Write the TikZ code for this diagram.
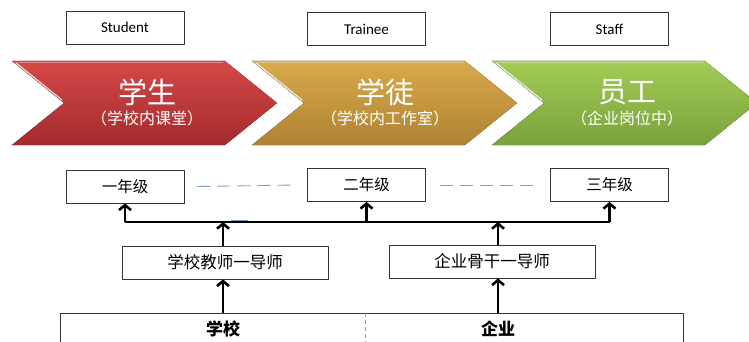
\documentclass[tikz,border=0pt]{standalone}
\usepackage{fontspec}
\setmainfont{Carlito}
\newfontfamily\cjk{Noto Sans CJK SC}
\usetikzlibrary{arrows.meta}
\definecolor{redtop}{HTML}{D64848}
\definecolor{redbot}{HTML}{A32B2D}
\definecolor{goldtop}{HTML}{D9AA4C}
\definecolor{goldbot}{HTML}{AE8332}
\definecolor{greentop}{HTML}{A2CC56}
\definecolor{greenbot}{HTML}{79A23B}
\definecolor{dashblue}{HTML}{7D9CCB}
\begin{document}
\begin{tikzpicture}[x=1pt,y=-1pt,line join=round,
	box/.style={draw=black!80,line width=0.8pt,minimum width=118pt,minimum height=33pt,inner sep=0pt,font=\cjk\fontsize{15.5}{17}\selectfont},
	tagbox/.style={box,font=\fontsize{15}{17}\selectfont},
	tutor/.style={box,minimum width=206pt,font=\cjk\fontsize{16.5}{18}\selectfont},
	uparr/.style={line width=2.6pt,-{Straight Barb[length=5pt,width=12pt]}},
	dashline/.style={dashblue,line width=0.9pt,dash pattern=on 13pt off 7pt},
	big/.style={white,font=\cjk\fontsize{29}{31}\selectfont},
	small/.style={white,font=\cjk\fontsize{16}{18}\selectfont}]
	\useasboundingbox (0,0) rectangle (749,342);
	\clip (0,0) rectangle (749,342);
	% chevrons
	\foreach \x/\c in {12/red,252/gold,492/green}{
		\fill[top color=\c top,bottom color=\c bot,shift={(\x,0)}]
			(0,61)--(213,61)--(265,103)--(213,145)--(0,145)--(52,103)--cycle;
		\draw[white,opacity=0.75,line width=1.3pt,shift={(\x,0)}] (4,63)--(50,100);
		\draw[white,opacity=0.35,line width=1pt,shift={(\x,0)}] (6,62.5)--(211,62.5);
	}
	\node[big] (stu) at (147,92) {学生};
	\node[small] (stusub) at (147,118) {（学校内课堂）};
	\node[big] (tra) at (385,92) {学徒};
	\node[small] (trasub) at (385,118) {（学校内工作室）};
	\node[big] (sta) at (627,92) {员工};
	\node[small] (stasub) at (627,118) {（企业岗位中）};
	% labels on top
	\node[tagbox] (student) at (125,27.5) {Student};
	\node[tagbox] (trainee) at (366.5,29) {Trainee};
	\node[tagbox] (staff) at (609.5,29) {Staff};
	% years
	\node[box] (yr1) at (125,186.5) {一年级};
	\node[box] (yr2) at (366.5,185) {二年级};
	\node[box] (yr3) at (609.5,185) {三年级};
	\draw[dashline] ([xshift=13pt]yr1.east) -- ([xshift=-12pt]yr2.west);
	\draw[dashline] ([xshift=14pt]yr2.east) -- ([xshift=-12pt]yr3.west);
	% tutors
	\node[tutor] (tch1) at (225,262.5) {学校教师一导师};
	\node[tutor] (tch2) at (492,261.5) {企业骨干一导师};
	\coordinate (bar) at (0,222);
	\draw[line width=2.6pt] (yr1.south |- bar) -- (yr3.south |- bar);
	\draw[dashblue,line width=1.2pt] (231,220.5) -- (248,220.5);
	\foreach \n in {yr1,yr2,yr3}
	\draw[uparr] (\n.south |- bar) -- (\n.south);
	\draw[uparr] (223,246) -- (223,222);
	\draw[uparr] (498,245) -- (498,222);
	% base
	\draw[black!80,line width=0.8pt] (60,313) rectangle (683,360);
	\draw[dashline,dash pattern=on 4pt off 3pt] (365,313) -- (365,342);
	\node[font=\cjk\bfseries\fontsize{17}{19}\selectfont] (school) at (223,329) {学校};
	\node[font=\cjk\bfseries\fontsize{17}{19}\selectfont] (firm) at (498,329) {企业};
	\draw[uparr] (223,313) -- (tch1.south -| 223,0);
	\draw[uparr] (498,313) -- (tch2.south -| 498,0);
\end{tikzpicture}
\end{document}
